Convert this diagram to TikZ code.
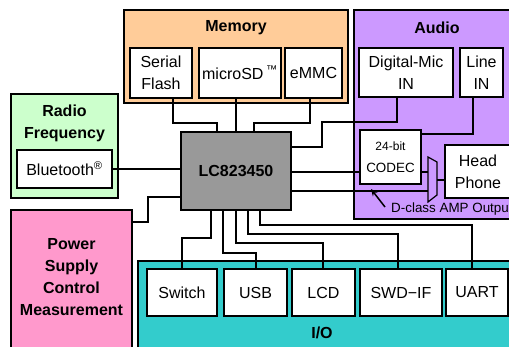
\documentclass[tikz,border=0pt]{standalone}
\usepackage{fontspec}
\setmainfont{Liberation Sans}
\usetikzlibrary{arrows.meta}
\definecolor{memc}{HTML}{FFCC99}
\definecolor{audc}{HTML}{CC99FF}
\definecolor{rfc}{HTML}{CCFFCC}
\definecolor{pwc}{HTML}{FF99CC}
\definecolor{ioc}{HTML}{33CCCC}
\definecolor{chipc}{HTML}{999999}
\newcommand\mainfs{\fontsize{16}{22}\selectfont}
\newcommand\smallfs{\fontsize{13.4}{22}\selectfont}
\tikzset{
  grp/.style={draw, line width=1.4pt, inner sep=0pt},
  box/.style={draw, line width=1.4pt, fill=white, inner sep=0pt, align=center, font=\mainfs},
  ttl/.style={inner sep=0pt, align=center, font=\mainfs\bfseries},
  conn/.style={line width=1.2pt},
}
\begin{document}
\begin{tikzpicture}[x=1pt,y=-1pt]
\clip (0,0) rectangle (509,346);
% group boxes
\node[grp, fill=memc, minimum width=224pt, minimum height=93pt] (mem) at (236,56.5) {};
\node[ttl] (memt) at (236,28) {Memory};
\node[grp, fill=audc, minimum width=166pt, minimum height=209pt] (aud) at (437,114.5) {};
\node[ttl] (audt) at (437,28) {Audio};
\node[grp, fill=rfc, minimum width=107pt, minimum height=104pt] (rf) at (64.5,146) {};
\node[ttl] (rft) at (64.5,123) {Radio\\Frequency};
\node[grp, fill=pwc, minimum width=121pt, minimum height=150pt] (pw) at (71.5,285) {};
\node[ttl] (pwt) at (71.5,277) {Power\\Supply\\Control\\Measurement};
\node[grp, fill=ioc, minimum width=382pt, minimum height=99pt] (io) at (329,310.5) {};
\node[ttl] (iot) at (322,333) {I/O};
% memory
\node[box, minimum width=62pt, minimum height=50pt] (sf) at (161,73) {Serial\\Flash};
\node[box, minimum width=82pt, minimum height=50pt] (sd) at (240,73) {microSD\,\textsuperscript{™}};
\node[box, minimum width=57pt, minimum height=50pt] (emmc) at (313.5,73) {eMMC};
% audio
\node[box, minimum width=94pt, minimum height=49pt] (dmic) at (406,72.5) {Digital-Mic\\IN};
\node[box, minimum width=43pt, minimum height=49pt] (linein) at (481.5,72.5) {Line\\IN};
\node[box, minimum width=61pt, minimum height=54pt, font=\smallfs] (codec) at (390.5,157) {{\fontsize{12}{13}\selectfont 24-bit}\\CODEC};
\node[box, minimum width=66pt, minimum height=53pt] (hp) at (478,171.5) {Head\\Phone};
\coordinate (a1) at (428,157);
\coordinate (a2) at (437,162);
\coordinate (a3) at (437,195);
\coordinate (a4) at (428,202);
\draw[line width=1.2pt] (a1) -- (a2) -- (a3) -- (a4) -- cycle;
\coordinate (ampin1) at (428,172);
\coordinate (ampin2) at (428,191);
\coordinate (ampout) at (437,180);
\node[inner sep=0pt, anchor=west, font=\smallfs] (dcl) at (391,209) {D-class AMP Output};
\coordinate (arrtail) at (385,207);
\coordinate (arrhead) at (371,189);
\draw[line width=1.5pt, -{Stealth[length=7pt,width=6pt]}] (arrtail) -- (arrhead);
% rf
\node[box, minimum width=95pt, minimum height=38pt] (bt) at (64.5,169) {Bluetooth\textsuperscript{®}};
% io
\node[box, minimum width=70pt, minimum height=47pt] (sw) at (182,292.5) {Switch};
\node[box, minimum width=63pt, minimum height=47pt] (usb) at (255.5,292.5) {USB};
\node[box, minimum width=63pt, minimum height=47pt] (lcd) at (323.5,292.5) {LCD};
\node[box, minimum width=82pt, minimum height=47pt] (swd) at (401,292.5) {SWD−IF};
\node[box, minimum width=62pt, minimum height=47pt] (uart) at (477,292.5) {UART};
% chip
\node[draw, line width=1.4pt, fill=chipc, inner sep=0pt, minimum width=110pt, minimum height=78pt, font=\mainfs\bfseries] (chip) at (236,171) {LC823450};
% connectors
\draw[conn] (173,0 |- sf.south) -- (173,123) -- (217,123) -- (217,0 |- chip.north);
\draw[conn] (236,0 |- sd.south) -- (236,0 |- chip.north);
\draw[conn] (310,0 |- emmc.south) -- (310,123) -- (254,123) -- (254,0 |- chip.north);
\draw[conn] (chip.east |- 0,147) -- (322,147) -- (322,122) -- (397,122) -- (397,0 |- dmic.south);
\draw[conn] (473,0 |- linein.south) -- (473,134) -- (codec.east |- 0,134);
\draw[conn] (chip.east |- 0,172) -- (codec.west |- 0,172);
\draw[conn] (codec.east |- 0,172) -- (ampin1);
\draw[conn] (chip.east |- 0,191) -- (ampin2);
\draw[conn] (ampout) -- (hp.west |- ampout);
\draw[conn] (bt.east) -- (chip.west |- bt.east);
\draw[conn] (chip.west |- 0,197) -- (148,197) -- (148,222) -- (pw.east |- 0,222);
\draw[conn] (211,0 |- chip.south) -- (211,238) -- (182,238) -- (182,0 |- sw.north);
\draw[conn] (223,0 |- chip.south) -- (223,253) -- (256,253) -- (256,0 |- usb.north);
\draw[conn] (236,0 |- chip.south) -- (236,243) -- (323,243) -- (323,0 |- lcd.north);
\draw[conn] (248,0 |- chip.south) -- (248,234) -- (398,234) -- (398,0 |- swd.north);
\draw[conn] (260,0 |- chip.south) -- (260,225) -- (472,225) -- (472,0 |- uart.north);
\end{tikzpicture}
\end{document}
